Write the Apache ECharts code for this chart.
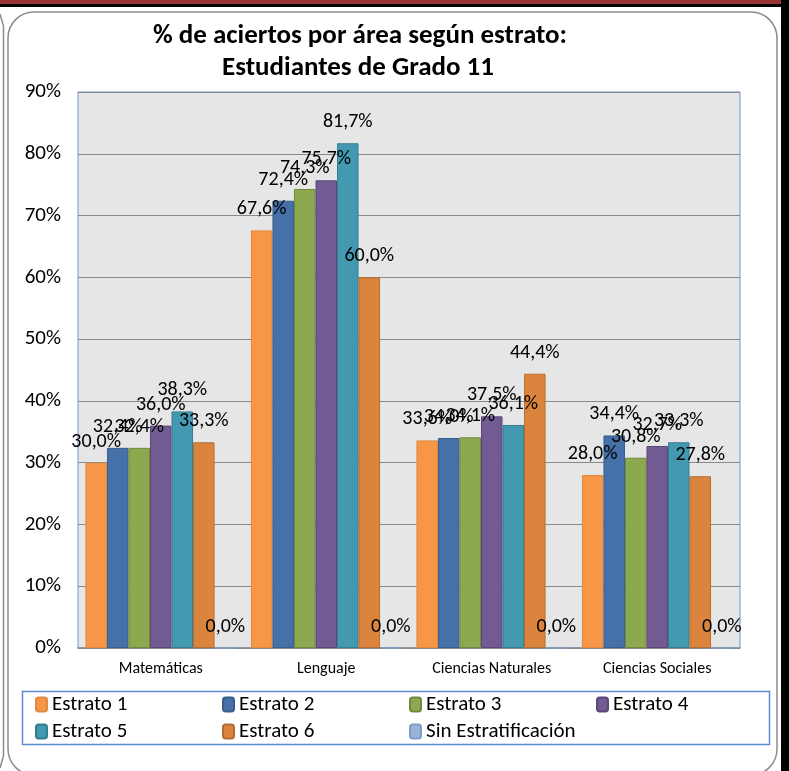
<!DOCTYPE html>
<html>
<head>
<meta charset="utf-8">
<script src="https://cdn.jsdelivr.net/npm/echarts@6/dist/echarts.min.js"></script>
<style>
  html, body { margin: 0; padding: 0; background: #fff; }
  #chart { width: 789px; height: 771px; }
</style>
</head>
<body>
<div id="chart"></div>
<script>
// datos (% de aciertos)
const areas = ['Matemáticas', 'Lenguaje', 'Ciencias Naturales', 'Ciencias Sociales']
const estrato1 = [30.0, 67.6, 33.6, 28.0]
const estrato2 = [32.4, 72.4, 34.0, 34.4]
const estrato3 = [32.4, 74.3, 34.1, 30.8]
const estrato4 = [36.0, 75.7, 37.5, 32.7]
const estrato5 = [38.3, 81.7, 36.1, 33.3]
const estrato6 = [33.3, 60.0, 44.4, 27.8]
const sinEstrat = [0.0, 0.0, 0.0, 0.0]
const seriesNames = ['Estrato 1', 'Estrato 2', 'Estrato 3', 'Estrato 4',
  'Estrato 5', 'Estrato 6', 'Sin Estratificación']
const yMax = 90
const yStep = 10

const FONT = 'Carlito, "Liberation Sans", sans-serif'
const fills = ['#F79646', '#4571A8', '#8DA94F', '#725A92', '#4299B0', '#DB843D', '#9AB4D9']
const borders = ['#E08A40', '#385D8A', '#71893F', '#5C4776', '#357D91', '#B66D31', '#7F9CC6']
const values = [estrato1, estrato2, estrato3, estrato4, estrato5, estrato6, sinEstrat]

const pct = v => `${v.toFixed(1).replace('.', ',')}%`

const chart = echarts.init(document.getElementById('chart'), null, { renderer: 'canvas' })

chart.setOption({
  animation: false,
  textStyle: { fontFamily: FONT },
  graphic: [
    // banda superior y marcos del informe
    { type: 'rect', shape: { x: 0, y: 0, width: 789, height: 5 }, style: { fill: '#993434' }, silent: true },
    { type: 'rect', shape: { x: 0, y: 4, width: 789, height: 3 }, style: { fill: '#000' }, silent: true },
    { type: 'rect', shape: { x: 781, y: 0, width: 8, height: 771 }, style: { fill: '#000' }, silent: true },
    { type: 'rect', shape: { x: 8, y: 12, width: 769, height: 763, r: 26 },
      style: { fill: 'none', stroke: '#8C8C8C', lineWidth: 1.5 }, silent: true },
    { type: 'polyline', shape: { points: [[0, 14], [3.5, 26], [3.5, 756], [0, 768]] },
      style: { fill: 'none', stroke: '#8C8C8C', lineWidth: 1.5 }, silent: true },
    // caja de la leyenda
    { type: 'rect', shape: { x: 22.5, y: 691.5, width: 747, height: 53 },
      style: { fill: 'none', stroke: '#5B8DD0', lineWidth: 1.5 }, silent: true },
    // título
    { type: 'text', x: 360, y: 36,
      style: { text: '% de aciertos por área según estrato:', fontFamily: FONT,
        fontWeight: 'bold', fontSize: 27, fill: '#000', align: 'center', verticalAlign: 'middle' } },
    { type: 'text', x: 358, y: 68,
      style: { text: 'Estudiantes de Grado 11', fontFamily: FONT,
        fontWeight: 'bold', fontSize: 27, fill: '#000', align: 'center', verticalAlign: 'middle' } },
  ],
  legend: {
    data: seriesNames,
    left: 35, top: 691, width: 760,
    padding: 0, itemGap: 0,
    itemWidth: 11, itemHeight: 14,
    textStyle: { fontFamily: FONT, fontSize: 21, color: '#000', width: 170, lineHeight: 27 },
  },
  grid: {
    left: 78, right: 49, top: 92, bottom: 123,
    show: true, backgroundColor: '#E6E6E6', borderColor: '#7097CC', borderWidth: 1,
  },
  xAxis: {
    type: 'category', data: areas,
    axisLine: { lineStyle: { color: '#8A8A8A', width: 1.5 } },
    axisTick: { show: false },
    axisLabel: { color: '#000', fontSize: 16, margin: 13, fontFamily: FONT },
  },
  yAxis: {
    type: 'value', min: 0, max: yMax, interval: yStep,
    axisLine: { show: false },
    axisTick: { show: false },
    axisLabel: { color: '#000', fontSize: 21, margin: 17, fontFamily: FONT, formatter: v => `${v}%` },
    splitLine: { lineStyle: { color: '#8A8A8A', width: 1 } },
  },
  series: seriesNames.map((name, i) => ({
    name, type: 'bar', data: values[i],
    barGap: '0%', barCategoryGap: '9%',
    itemStyle: { color: fills[i], borderColor: borders[i], borderWidth: 1 },
    label: {
      show: true, position: 'top', distance: 11,
      color: '#000', fontSize: 20, fontFamily: FONT,
      formatter: ({ value }) => pct(value),
    },
  })),
})
</script>
</body>
</html>
